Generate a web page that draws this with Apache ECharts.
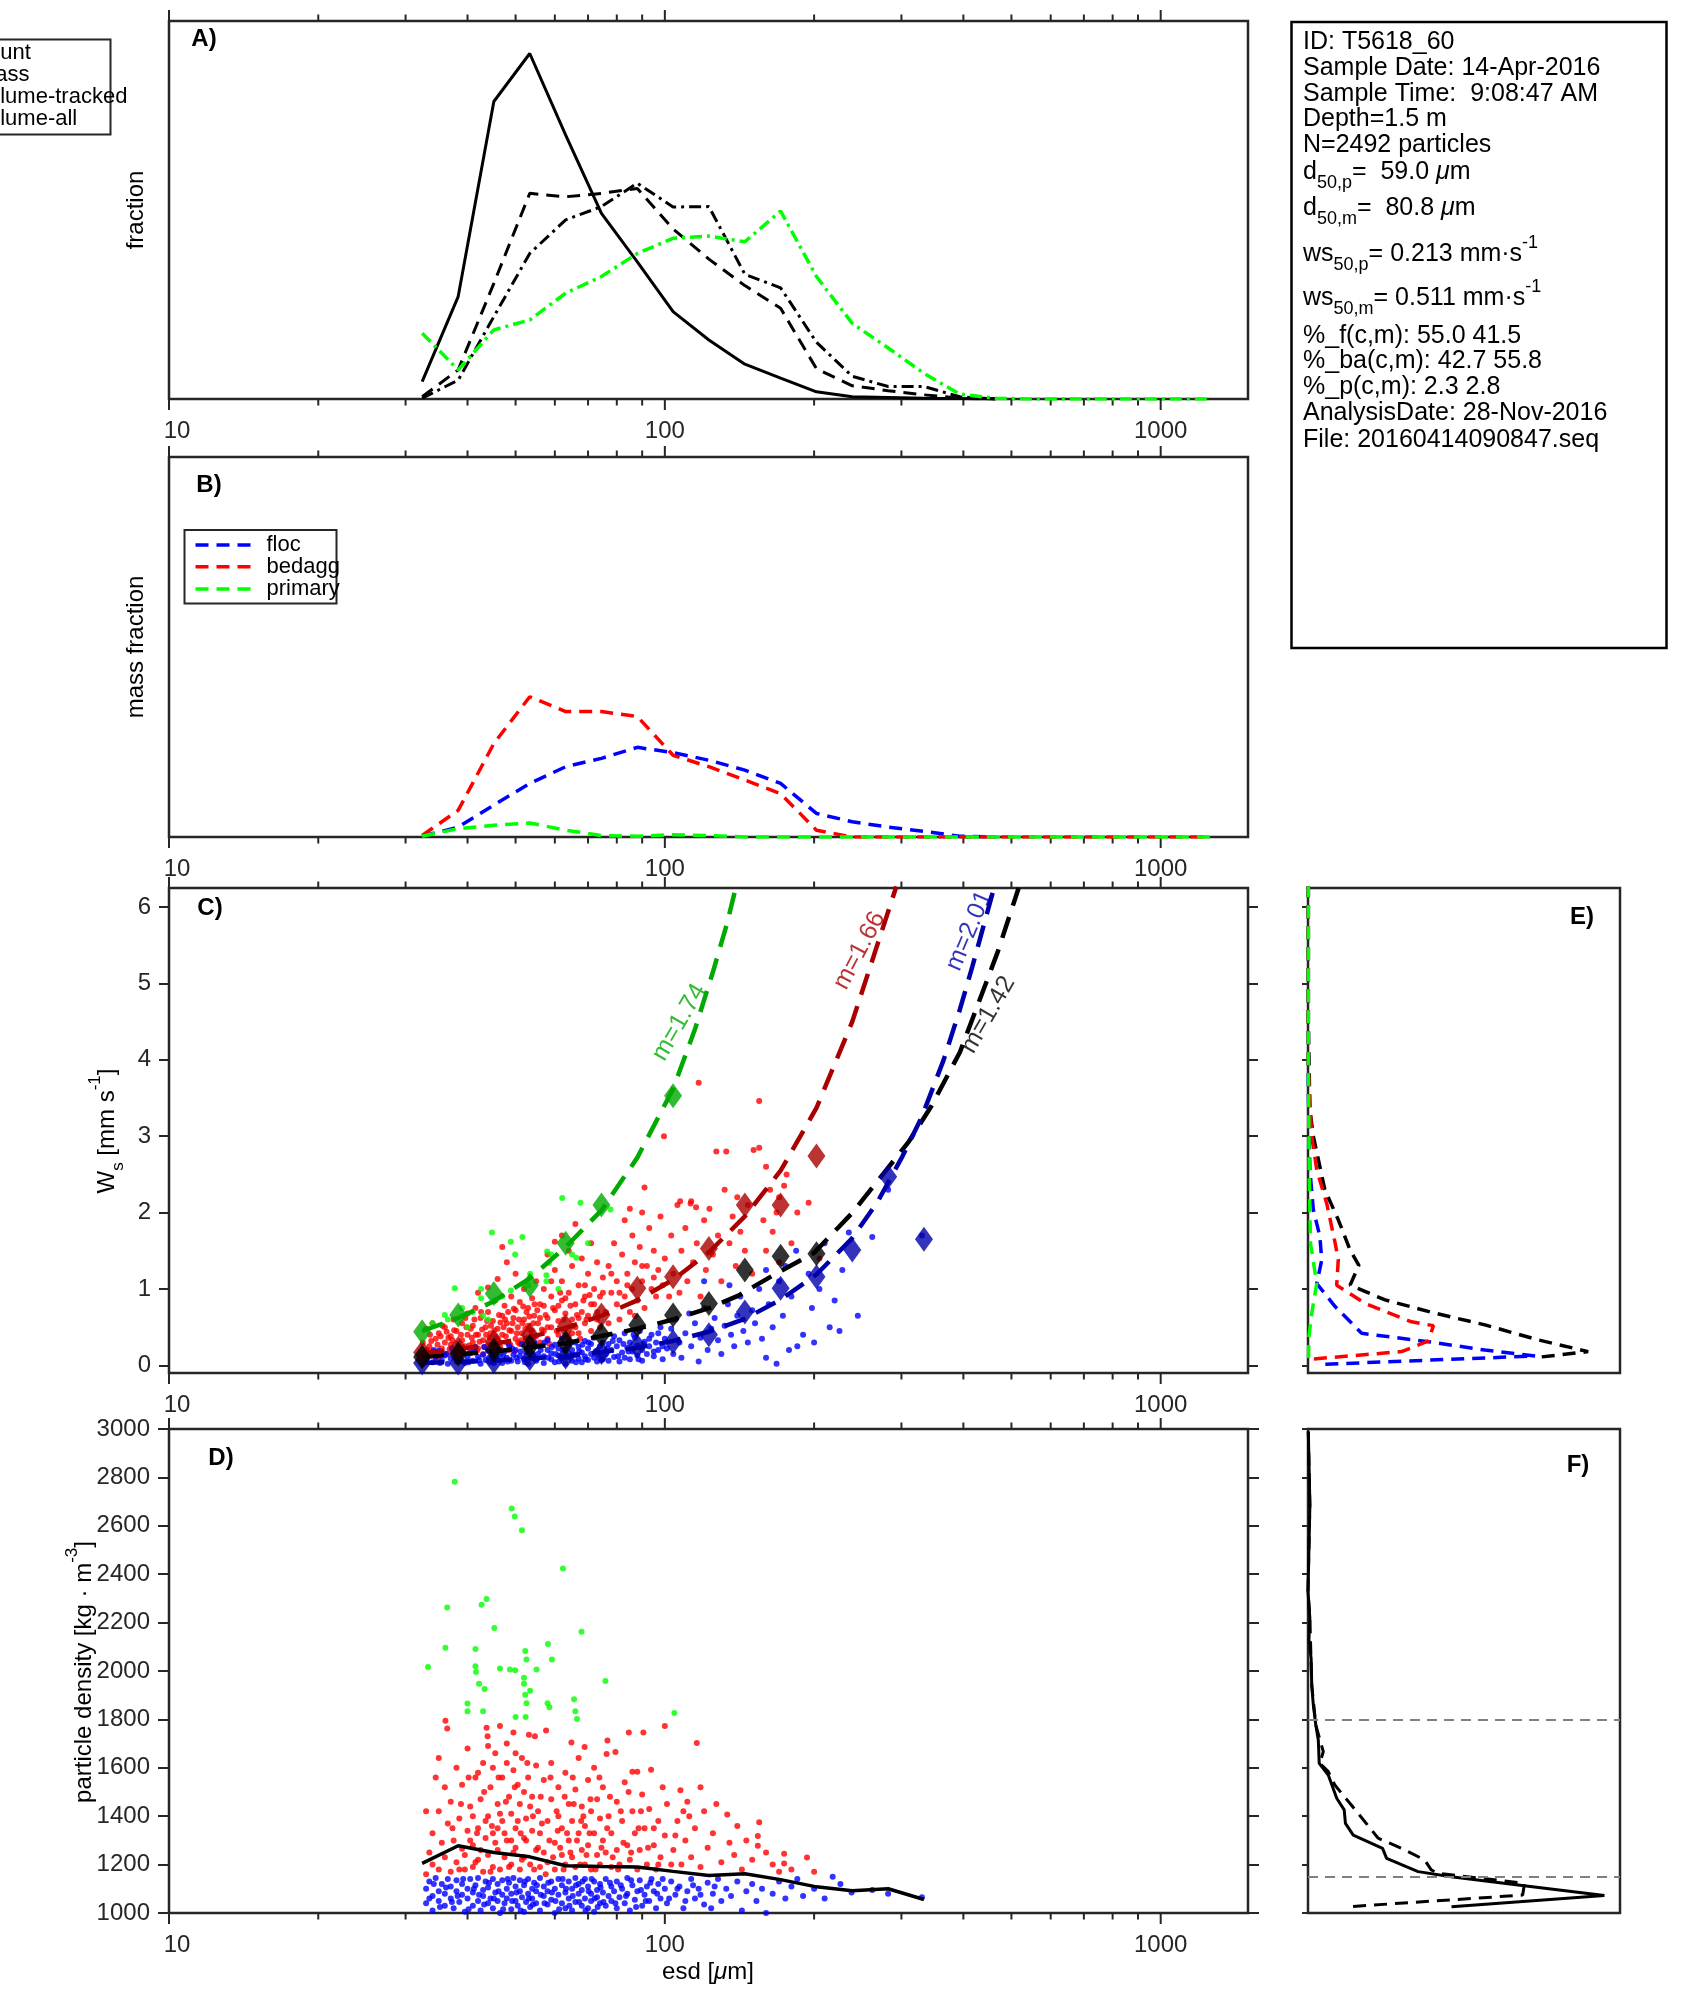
<!DOCTYPE html>
<html><head><meta charset="utf-8">
<script src="https://cdn.jsdelivr.net/npm/echarts@6/dist/echarts.min.js"></script>
<style>html,body{margin:0;padding:0;background:#fff;}#c{width:1694px;height:2015px;}</style>
</head><body><div id="c"></div>
<script>
const FONT = "'Liberation Sans', Arial, Helvetica, sans-serif";
const AXC = '#262626';

// ---------- DATA ----------
const binEsd = [32.4, 38.3, 45.2, 53.4, 63.1, 74.5, 88.0, 103.9, 122.7, 145.0, 171.2, 202.2, 238.8, 282.1, 333.1, 393.5, 464.7, 548.9, 648.3, 765.7, 904.4, 1068.2, 1261.6];
const xTickValues = [10,20,30,40,50,60,70,80,90,100,200,300,400,500,600,700,800,900,1000];
const xMajorTicks = [10,100,1000];
const xTickLabels = ['10','100','1000'];

// Panel A (fraction)
const aCount = [0.046,0.271,0.787,0.914,0.698,0.491,0.363,0.231,0.156,0.092,0.055,0.019,0.006,0.004,0.002,0.001,0];
const aMass = [0.006,0.077,0.306,0.544,0.535,0.544,0.557,0.450,0.370,0.300,0.240,0.080,0.035,0.022,0.011,0.002,0];
const aVolTracked = [0.002,0.050,0.218,0.385,0.474,0.509,0.571,0.508,0.509,0.330,0.294,0.150,0.060,0.033,0.033,0.006,0];
const aVolAll = [0.174,0.077,0.183,0.209,0.280,0.324,0.385,0.425,0.431,0.416,0.497,0.324,0.200,0.135,0.068,0.013,0.002,0,0,0,0,0,0];

// Panel B (mass fraction)
const bFloc = [0.002,0.026,0.084,0.141,0.185,0.207,0.236,0.222,0.202,0.176,0.141,0.062,0.040,0.026,0.015,0.002,0];
const bBedagg = [0.004,0.070,0.246,0.369,0.330,0.330,0.317,0.215,0.185,0.150,0.114,0.018,0,0,0,0,0,0,0,0,0,0,0];
const bPrimary = [0.002,0.022,0.031,0.037,0.018,0.004,0.002,0.006,0.004,0,0,0,0,0,0,0,0,0,0,0,0,0,0];

// Panel C binned means (diamonds)
const cMeanPrimary = [0.44,0.66,0.94,1.05,1.60,2.10,null,3.53];
const cMeanBedagg = [0.17,0.22,0.31,0.40,0.51,0.66,1.01,1.16,1.53,2.10,2.10,2.74];
const cMeanFloc = [0.03,0.03,0.05,0.09,0.11,0.17,0.25,0.31,0.40,0.70,1.01,1.16,1.51,2.47,1.65];
const cMeanAll = [0.11,0.15,0.20,0.25,0.30,0.40,0.53,0.66,0.81,1.25,1.43,1.46];

// Panel C fitted curves [esd, Ws]
const fitPrimary = [[32.4,0.45],[38.3,0.62],[45.2,0.84],[53.4,1.14],[63.1,1.55],[74.5,2.03],[88.0,2.72],[103.9,3.62],[115,4.40],[125,5.15],[133,5.75],[139.6,6.3]];
const fitBedagg = [[32.4,0.16],[38.3,0.21],[45.2,0.28],[53.4,0.37],[63.1,0.49],[74.5,0.65],[88.0,0.85],[103.9,1.12],[122.7,1.48],[145.0,1.95],[171.2,2.55],[202.2,3.37],[238.8,4.5],[265,5.4],[293,6.27]];
const fitFloc = [[32.4,0.03],[45.2,0.06],[63.1,0.12],[88.0,0.23],[103.9,0.32],[122.7,0.44],[145.0,0.61],[171.2,0.86],[202.2,1.19],[238.3,1.66],[268,2.13],[301.6,2.74],[329.6,3.25],[365,4.0],[393.6,4.66],[417,5.22],[448.7,5.97],[462,6.27]];
const fitAll = [[32.4,0.11],[45.2,0.18],[63.1,0.29],[88.0,0.48],[103.9,0.60],[122.7,0.75],[140.3,0.91],[167.5,1.20],[199.7,1.47],[238.3,1.99],[276,2.51],[310.5,2.93],[344.4,3.39],[393.6,4.10],[469,5.41],[517,6.25]];
const fitLabelText = ['m=1.74','m=1.66','m=2.01','m=1.42'];
const fitLabelAt = [[107,4.49],[247,5.43],[411,5.69],[449,4.59]];

// Panel C particles [esd, Ws]
const cPtsBedagg = [[33,0.12],[33.5,0.25],[34,0.18],[34.5,0.35],[35,0.1],[35,0.42],[35.5,0.22],[36,0.3],[36,0.5],[36.5,0.15],[37,0.27],[37,0.38],[37.5,0.6],[38,0.2],[38,0.45],[38.5,0.12],[39,0.33],[39,0.55],[39.5,0.25],[40,0.4],[40,0.68],[33,0.48],[34,0.55],[32.5,0.3],
[40.5,0.18],[41,0.3],[41,0.52],[41.5,0.75],[42,0.22],[42,0.4],[42.5,0.62],[43,0.15],[43,0.33],[43.5,0.5],[44,0.27],[44,0.7],[44.5,0.42],[45,0.2],[45,0.58],[45.5,0.85],[46,0.35],[46,0.48],[46.5,0.25],[47,0.65],[47,0.4],[47.5,0.78],[48,0.3],[48,0.55],[48.5,0.2],[49,0.45],[49,0.9],[49.5,0.62],[50,0.35],[50,0.72],[50.5,0.5],[51,0.28],[51,0.83],[51.5,0.42],[52,0.6],[52,1.0],[52.5,0.33],[53,0.52],[53,0.75],[53.5,0.25],[54,0.45],[54,0.88],[54.5,0.65],[55,0.38],[55,1.1],[42,0.95],[44,1.02],[46,1.13],[47,1.55],[48,1.35],[50,1.2],
[55.5,0.55],[56,0.3],[56,0.8],[57,0.45],[57,1.0],[58,0.62],[58,0.35],[59,0.9],[59,0.5],[60,0.72],[60,1.25],[61,0.4],[61,0.58],[62,0.85],[62,1.1],[63,0.48],[63,0.68],[64,0.95],[64,0.38],[65,1.3],[65,0.6],[66,0.8],[66,0.5],[67,1.05],[67,0.42],[68,0.7],[68,1.4],[69,0.55],[69,0.9],[70,1.2],[70,0.65],[71,0.45],[71,1.6],[72,0.8],[72,1.0],[73,0.6],[73,1.35],[74,0.9],[74,0.5],[75,1.15],[58,1.45],[62,1.7],[64,1.5],[66,1.85],[60,1.62],
[76,0.7],[77,1.3],[77,0.55],[78,0.95],[79,1.6],[80,0.8],[80,1.1],[81,0.6],[82,1.45],[83,0.9],[83,1.9],[84,1.2],[85,0.7],[86,1.0],[86,1.7],[87,1.35],[88,0.85],[89,1.55],[90,1.1],[90,2.0],[91,0.75],[92,1.3],[93,1.8],[94,1.0],[95,1.5],[96,0.9],[97,1.25],[98,1.95],[99,1.05],[100,1.4],[91,2.33],[99.6,3.0],[85,2.05],
[102,0.9],[103,1.7],[104,1.2],[106,2.1],[107,0.95],[108,1.5],[110,1.8],[111,1.1],[113,2.15],[114,1.35],[116,1.6],[117,3.7],[118,0.9],[120,1.9],[121,1.25],[123,2.05],[125,1.45],[127,2.8],[128,1.7],[130,1.1],[132,2.3],[133,2.8],[135,1.6],[137,1.95],[139,1.3],[140,2.2],[142,1.75],[145,1.5],[147,2.1],[150,1.2],[107.4,2.15],[112.7,2.12],[115.6,2.07],
[151,2.82],[155,2.85],[155,3.46],[158,1.9],[160,1.5],[163,2.3],[165,1.75],[168,2.0],[170,1.35],[174,2.35],[176,2.5],[180,1.6],[185,2.0],[195,2.13],[205,1.4],[160,2.6],[170,2.2],
[33.2,0.2],[33.8,0.32],[34.3,0.14],[34.8,0.27],[35.3,0.38],[35.8,0.16],[36.3,0.44],[36.8,0.21],[37.3,0.33],[37.8,0.13],[38.3,0.28],[38.8,0.4],[39.3,0.17],[39.8,0.5],[40.3,0.26],[40.8,0.36],[41.3,0.6],[41.8,0.19],[42.3,0.31],[42.8,0.47],[43.3,0.24],[43.8,0.58],[44.3,0.36],[44.8,0.17],[45.3,0.46],[45.8,0.3],[46.3,0.66],[46.8,0.2],[47.3,0.5],[47.8,0.38],[48.3,0.7],[48.8,0.27],[49.3,0.55],[49.8,0.18],[50.3,0.42],[50.8,0.6],[51.3,0.33],[51.8,0.77],[52.3,0.48],[52.8,0.22],[53.3,0.64],[53.8,0.38],[54.3,0.55],[54.8,0.28],[55.3,0.72],[56.5,0.47],[57.5,0.66],[58.5,0.28],[59.5,0.75],[60.5,0.45],[61.5,0.95],[62.5,0.6],[63.5,0.36],[64.5,0.78],[65.5,0.52],[66.5,0.66],[67.5,0.35],[68.5,0.85],[69.5,0.6],[70.5,0.92],
[33.6,0.4],[34.6,0.08],[35.6,0.52],[36.6,0.36],[37.6,0.46],[38.6,0.24],[39.6,0.62],[40.6,0.48],[41.6,0.4],[42.6,0.7],[43.6,0.4],[44.6,0.52],[45.6,0.38],[46.6,0.56],[47.6,0.6],[48.6,0.46],[49.6,0.74],[50.6,0.3],[51.6,0.55],[52.6,0.7],[53.6,0.46],[54.6,0.8],[56,0.62],[57,0.78],[58,0.5],[59,1.1],[61,0.78],[63,0.88],[65,0.42],[67,0.62],[69,1.05],[71,0.8],[73,0.7],[75,0.95],[78,1.2],[81,0.95],[84,1.05],[87,0.65],[90,1.3],[95,1.15]];
const cPtsFloc = [[32.5,0.02],[33,0.08],[33.5,0.15],[34,0.04],[34.5,0.11],[35,0.19],[35.5,0.06],[36,0.13],[36.5,0.02],[37,0.09],[37.5,0.17],[38,0.05],[38.5,0.12],[39,0.21],[39.5,0.03],[40,0.1],[40.5,0.16],[41,0.06],[41.5,0.24],[42,0.11],[42.5,0.02],[43,0.14],[43.5,0.07],[44,0.19],[44.5,0.04],[45,0.12],[45.5,0.22],[46,0.08],[46.5,0.15],[47,0.03],[47.5,0.18],[48,0.1],[48.5,0.26],[49,0.06],[49.5,0.14],[50,0.2],
[50.5,0.05],[51,0.12],[51.5,0.28],[52,0.08],[52.5,0.17],[53,0.02],[53.5,0.22],[54,0.1],[54.5,0.31],[55,0.06],[55.5,0.15],[56,0.25],[57,0.03],[57,0.12],[58,0.2],[58,0.33],[59,0.08],[59,0.16],[60,0.27],[60,0.04],[61,0.13],[61,0.22],[62,0.09],[62,0.35],[63,0.18],[63,0.02],[64,0.26],[64,0.11],[65,0.06],[65,0.2],[66,0.3],[66,0.14],[67,0.09],[67,0.24],[68,0.04],[68,0.17],[69,0.32],[69,0.12],[70,0.22],[70,0.07],[71,0.15],[71,0.28],[72,0.1],[72,0.36],[73,0.19],[73,0.05],[74,0.25],[74,0.13],[75,0.3],[75,0.08],
[76,0.15],[77,0.28],[77,0.06],[78,0.2],[79,0.38],[79,0.11],[80,0.25],[81,0.05],[81,0.33],[82,0.17],[83,0.42],[83,0.1],[84,0.23],[85,0.3],[85,0.08],[86,0.18],[87,0.36],[88,0.13],[88,0.26],[89,0.45],[90,0.2],[90,0.06],[91,0.31],[92,0.15],[93,0.25],[94,0.4],[95,0.12],[96,0.3],[97,0.2],[98,0.5],[99,0.08],[100,0.35],
[101,0.22],[103,0.48],[104,0.15],[105,0.6],[107,0.3],[108,0.1],[110,0.42],[112,0.68],[113,0.25],[115,0.55],[117,0.05],[118,0.36],[120,0.75],[122,0.2],[124,0.48],[126,0.62],[128,0.33],[130,0.15],[132,0.52],[134,0.8],[136,0.4],[138,0.25],[140,0.65],[142,0.9],[144,0.45],[147,0.3],[150,0.72],[120,1.1],[135,1.05],
[152,0.55],[155,1.0],[157,0.35],[160,1.25],[162,0.8],[165,0.5],[168,0.02],[170,1.1],[173,0.65],[175,1.3],[178,0.2],[180,0.9],[184,1.5],[190,0.4],[195,1.2],[198,0.75],[200,0.3],[205,1.0],[210,1.6],[215,0.5],[220,0.85],[228,1.25],[235,1.74],[245,0.65],[262,1.68],[282,2.3],[330,1.7],[160,0.1],[185,0.25],[225,0.45],
[33.2,0.1],[34.2,0.2],[35.2,0.03],[36.2,0.15],[37.2,0.22],[38.2,0.08],[39.2,0.16],[40.2,0.04],[41.2,0.18],[42.2,0.07],[43.2,0.24],[44.2,0.1],[45.2,0.03],[46.2,0.2],[47.2,0.12],[48.2,0.05],[49.2,0.22],[50.2,0.1],[51.2,0.18],[52.2,0.04],[53.2,0.27],[54.2,0.15],[55.2,0.08],[56.2,0.2],[57.2,0.3],[58.2,0.1],[59.2,0.24],[60.2,0.15],[61.2,0.05],[62.2,0.2],[63.2,0.1],[64.2,0.32],[65.2,0.14],[66.2,0.04],[67.2,0.18],[68.2,0.27],[69.2,0.08],[70.2,0.3],[72.5,0.18],[74.5,0.07],[76.5,0.22],[78.5,0.32],[80.5,0.12],[82.5,0.28],[84.5,0.18],[86.5,0.4],[88.5,0.08],[90.5,0.28],[93,0.35],[95,0.18],[97,0.42],[99,0.25]];
const cPtsPrimary = [[37.7,1.01],[44.8,1.74],[48.9,1.62],[51.6,1.68],[62.1,2.19],[67.6,2.13],[77.7,2.04],[57.9,1.49],[59,1.45],[65,1.45],[66.3,1.41],[42.6,1.0],[42.6,0.88],[45.2,0.84],[48.9,0.98],[53,1.05],[41,0.7],[43,0.65],[44,0.6],[36,0.66],[36.5,0.6],[40,0.5],[53.5,1.2],[58.4,1.34],[57.7,1.18],[57.7,1.1],[49.9,1.45],[47,0.9],[39,0.75],[34,0.55],[70,1.6],[61,1.0]];

// Panel D particles [esd, density]
const dPtsBedagg = [[33,1160],[33.5,1250],[34,1330],[34,1200],[35,1420],[35,1180],[35.5,1290],[36,1520],[36,1230],[36.5,1370],[37,1170],[37,1460],[37.5,1300],[38,1600],[38,1210],[38.5,1390],[39,1265],[39,1530],[39.5,1180],[40,1340],[40,1680],[33,1420],[34.5,1560],[36.1,1794],[36.4,1762],[35,1640],
[40.5,1440],[41,1190],[41,1280],[41.5,1560],[42,1350],[42,1220],[42.5,1470],[43,1170],[43,1620],[43.5,1310],[43.7,1765],[43.9,1730],[44,1240],[44,1400],[44.5,1520],[45,1190],[45,1330],[45.5,1660],[46,1260],[46,1450],[46.5,1773],[46.5,1180],[47,1380],[47,1560],[47.5,1230],[48,1300],[48,1700],[48.5,1480],[49,1200],[49,1410],[49.5,1746],[49.5,1590],[50,1270],[50,1350],[50.5,1530],[51,1180],[51,1450],[51.5,1640],[52,1310],[52,1230],[52.5,1390],[53,1560],[53.2,1737],[53.5,1200],[54,1340],[54,1480],[54.7,1730],[55,1260],[55,1610],[42,1580],[45,1600],[48,1620],[50,1660],[44,1690],[52,1500],[46,1350],[49,1300],[41,1400],
[55.5,1420],[56,1190],[56,1330],[57,1550],[57,1250],[57.6,1754],[58,1380],[58,1210],[59,1470],[59,1620],[60,1290],[60,1180],[61,1400],[61,1520],[62,1240],[62,1350],[63,1580],[63,1200],[64,1450],[64,1300],[64.8,1705],[65,1230],[65,1380],[66,1510],[66,1190],[67,1330],[67,1640],[68,1260],[68,1440],[68.9,1686],[69,1200],[69,1360],[70,1550],[70,1280],[71,1420],[71,1180],[72,1330],[72,1600],[73,1240],[73,1470],[74,1390],[74,1200],[75,1300],[75,1520],
[76,1250],[76.3,1657],[76.6,1713],[77,1400],[78,1190],[78,1330],[79.5,1665],[80,1460],[80,1260],[81,1200],[82,1380],[83,1540],[84,1280],[84.6,1746],[85,1220],[86,1584],[86,1420],[87,1330],[88,1584],[88,1180],[89,1260],[90,1490],[90.5,1746],[91,1350],[92,1200],[93,1430],[93.8,1592],[95,1280],[96,1180],[97,1380],[98,1230],[100,1773],[100,1320],[101,1450],[103,1200],[104,1260],
[106,1380],[107.5,1507],[108,1200],[110,1300],[111,1460],[113,1230],[115,1350],[116,1702],[118,1190],[120,1420],[122,1270],[125,1330],[127,1450],[130,1210],[133.6,1407],[135,1290],[138,1240],[140,1360],[143,1180],[146,1300],[150,1220],[154,1318],[154,1278],[155,1375],[160,1250],[165,1200],[170,1170],[174,1245],[174,1205],[180,1180],[193.5,1229],[200,1170],[112,1400],[118,1520],
[38.5,1180],[39.5,1240],[40.5,1300],[41.5,1210],[42.5,1260],[43.5,1380],[44.5,1170],[45.5,1290],[46.5,1410],[47.5,1330],[48.5,1190],[49.5,1250],[50.5,1380],[51.5,1220],[52.5,1300],[53.5,1440],[54.5,1180],[55.5,1270],[56.5,1370],[57.5,1160],[58.5,1300],[59.5,1230],[60.5,1420],[61.5,1270],[62.5,1180],[63.5,1330],[64.5,1250],[65.5,1450],[66.5,1300],[67.5,1200],[68.5,1400],[69.5,1240],[70.5,1330],[72.5,1180],[74.5,1270],[76.5,1350],[78.5,1230],[80.5,1180],[82.5,1290],[85.5,1250],[88.5,1350],[92.5,1270],[97,1200],
[37.3,1350],[38.8,1450],[40.2,1560],[41.8,1330],[43.2,1500],[44.8,1360],[46.2,1560],[47.8,1460],[49.8,1520],[51.2,1330],[52.8,1620],[54.2,1400],[56.2,1480],[58.8,1560],[60.8,1340],[62.8,1480],[65.2,1560],[67.8,1380],[70.8,1470],[73.8,1560],[77.5,1480],[81.5,1420],[84.5,1500],[89.5,1420],[95,1350],[99,1520],[105,1320],[109,1420]];
const dPtsFloc = [[33,1100],[33,1040],[33.5,1130],[34,1070],[34,1010],[34.5,1145],[35,1090],[35,1050],[35.5,1120],[36,1030],[36,1080],[36.5,1140],[37,1060],[37,1110],[37.5,1020],[38,1090],[38,1135],[38.5,1045],[39,1075],[39,1120],[39.5,1005],[40,1100],[40,1060],[40.5,1140],[41,1030],[41,1085],[41.5,1115],[42,1050],[42,1145],[42.5,1010],[43,1095],[43,1070],[43.5,1130],[44,1040],[44,1105],[44.5,1060],[45,1140],[45,1020],[45.5,1085],[46,1120],[46,1050],[46.5,1000],[47,1075],[47,1135],[47.5,1040],[48,1100],[48,1060],[48.5,1125],[49,1015],[49,1080],[49.5,1145],[50,1050],[50,1110],[50.5,1030],[51,1090],[51,1135],[51.5,1065],[52,1005],[52,1115],[52.5,1045],[53,1080],[53,1140],[53.5,1025],[54,1100],[54,1060],[54.5,1125],[55,1040],[55,1090],[56,1010],[56,1145],[57,1070],[57,1110],[58,1035],[58,1090],[59,1130],[59,1055],[60,1000],[60,1100],[61,1075],[61,1140],[62,1040],[62,1115],[63,1085],[63,1020],[64,1130],[64,1060],[65,1100],[65,1010],[66,1045],[66,1145],[67,1080],[67,1120],[68,1030],[68,1095],[69,1060],[69,1140],[70,1110],[70,1020],[71,1080],[71,1050],[72,1130],[72,1005],[73,1095],[73,1065],[74,1040],[74,1120],[75,1085],[76,1140],[76,1030],[77,1070],[78,1110],[78,1050],[79,1090],[80,1020],[80,1130],[81,1065],[82,1100],[83,1040],[84,1145],[84,1080],[85,1010],[86,1115],[87,1055],[88,1090],[89,1135],[90,1030],[91,1075],[92,1110],[93,1050],[94,1140],[95,1090],[96,1020],[97,1120],[98,1060],[100,1100],[101,1040],[103,1130],[105,1075],[107,1110],[109,1020],[111,1090],[113,1140],[115,1060],[117,1100],[120,1035],[122,1125],[125,1080],[128,1140],[130,1050],[133,1100],[136,1070],[140,1130],[143,1010],[146,1090],[150,1120],[153,1050],[157,1100],[160,1000],[165,1080],[170,1130],[175,1060],[180,1110],[185,1140],[190,1070],[200,1100],[210,1060],[218,1150],[226,1120],[238,1085],[262,1095],[282,1080],[330,1065],
[33.5,1060],[34.2,1120],[35.2,1025],[36.2,1105],[37.2,1045],[38.2,1070],[39.2,1140],[40.2,1015],[41.2,1100],[42.2,1075],[43.2,1035],[44.2,1125],[45.2,1060],[46.2,1090],[47.2,1015],[48.2,1140],[49.2,1050],[50.2,1085],[51.2,1010],[52.2,1130],[53.2,1060],[54.2,1035],[55.2,1115],[56.2,1075],[57.2,1040],[58.2,1125],[59.2,1085],[60.2,1050],[61.2,1015],[62.2,1140],[63.2,1100],[64.2,1030],[65.2,1070],[66.2,1115],[67.2,1045],[68.2,1130],[69.2,1010],[70.2,1090],[71.2,1140],[72.2,1060],[73.2,1025],[74.2,1105],[75.2,1045],[77.5,1125],[79.5,1040],[81.5,1115],[83.5,1070],[85.5,1135],[87.5,1025],[89.5,1095],[91.5,1050],[93.5,1125],[96.5,1080],[99,1140],[102,1060],[106,1100],[110,1050],[114,1115],[118,1075],[124,1020],[126,1110]];
const dPtsPrimary = [[37.7,2782],[49.1,2671],[49.8,2638],[51.5,2582],[62.3,2424],[36.4,2262],[42.7,2274],[43.7,2298],[45.3,2178],[67.9,2162],[36.1,2096],[33.3,2017],[41.5,2091],[41.5,2020],[41.6,1996],[42.2,1947],[43.3,1926],[46.5,2010],[48.7,2006],[49.9,2003],[52.3,2083],[52.6,2048],[55.1,2006],[58.1,2112],[59.2,2048],[52,1972],[52,1947],[53.5,1918],[52.3,1902],[52.6,1867],[52.4,1810],[40,1834],[40,1866],[43,1834],[58,1867],[58.5,1850],[65.6,1883],[66,1834],[66.5,1802],[75.9,1959],[104.5,1826],[50,1810]];
const dMeanDensity = [1205,1278,1250,1232,1195,1192,1190,1172,1155,1162,1138,1108,1092,1100,1056];

// Panel E profiles [fraction, Ws]
const eAll = [[0.001,6.3],[0.001,4.5],[0.006,3.35],[0.017,3.0],[0.054,2.3],[0.097,1.906],[0.135,1.51],[0.163,1.31],[0.135,1.05],[0.247,0.857],[0.407,0.683],[0.567,0.53],[0.738,0.333],[0.898,0.18],[0.738,0.106]];
const eFloc = [[0.001,6.3],[0.001,3.6],[0.006,2.56],[0.017,2.04],[0.038,1.69],[0.044,1.38],[0.028,1.07],[0.087,0.77],[0.172,0.42],[0.386,0.31],[0.567,0.2],[0.728,0.123],[0.054,0.014]];
const eBedagg = [[0.001,6.3],[0.001,3.87],[0.006,3.43],[0.012,3.0],[0.028,2.56],[0.06,2.12],[0.087,1.6],[0.097,1.38],[0.092,1.05],[0.183,0.81],[0.332,0.57],[0.402,0.52],[0.386,0.32],[0.3,0.18],[0.006,0.08]];
const ePrimary = [[0.001,6.3],[0.001,4.0],[0.004,2.5],[0.008,1.6],[0.028,1.07],[0.012,0.68],[0.003,0.38],[0.001,0.0]];

// Panel F profiles [fraction, density]
const fCount = [[0.001,2990],[0.006,2686],[0.0,2328],[0.006,2218],[0.003,2130],[0.01,2052],[0.012,1942],[0.017,1860],[0.025,1777],[0.033,1715],[0.036,1618],[0.065,1570],[0.092,1474],[0.116,1426],[0.12,1370],[0.145,1322],[0.239,1267],[0.252,1226],[0.353,1171],[0.459,1150],[0.673,1116],[0.95,1072],[0.46,1026]];
const fMass = [[0.001,2990],[0.006,2686],[0.0,2328],[0.006,2218],[0.012,1942],[0.025,1777],[0.049,1667],[0.038,1618],[0.065,1584],[0.086,1529],[0.156,1419],[0.225,1309],[0.3,1267],[0.374,1219],[0.395,1178],[0.417,1164],[0.694,1123],[0.688,1074],[0.129,1026]];
const fThresholds = [1800, 1150];

const legendALabels = ['count','mass','volume-tracked','volume-all'];
const legendBLabels = ['floc','bedagg','primary'];
const infoLines = [
  'ID: T5618_60',
  'Sample Date: 14-Apr-2016',
  'Sample Time:  9:08:47 AM',
  'Depth=1.5 m',
  'N=2492 particles',
  '{a|d}{s|50,p}{a|=  59.0 }{i|\u03bc}{a|m}',
  '{a|d}{s|50,m}{a|=  80.8 }{i|\u03bc}{a|m}',
  '{a|ws}{s|50,p}{a|= 0.213 mm\u00b7s}{p|-1}',
  '{a|ws}{s|50,m}{a|= 0.511 mm\u00b7s}{p|-1}',
  '%_f(c,m): 55.0 41.5',
  '%_ba(c,m): 42.7 55.8',
  '%_p(c,m): 2.3 2.8',
  'AnalysisDate: 28-Nov-2016',
  'File: 20160414090847.seq'
];

// ---------- helpers ----------
const pair = (xs, ys) => ys.map((y, i) => [xs[i], y]);
const COL = {black:'#000000', red:'#ff0000', blue:'#0000ff', green:'#00ff00', dred:'#aa0000', dblue:'#0000aa', dgreen:'#00aa00'};

function fmtLog(v) {
  const r = Math.round(v);
  const k = xMajorTicks.indexOf(r);
  if (k < 0 || Math.abs(v - r) > 1e-6 * r) return '';
  return k === 0 ? '{l|' + xTickLabels[0] + '}' : xTickLabels[k];
}
function logX(gi) {
  return {type:'log', logBase:10, gridIndex:gi, min:10, max:1500,
    axisLine:{show:false}, axisTick:{show:false}, splitLine:{show:false},
    axisLabel:{show:true, interval:0, margin:20, fontSize:24, fontFamily:FONT, color:AXC, formatter:fmtLog,
      rich:{l:{padding:[0,0,0,16], fontSize:24, fontFamily:FONT, color:AXC}}}};
}
function plainX(gi) {
  return {type:'value', gridIndex:gi, min:0, max:1, axisLine:{show:false}, axisTick:{show:false}, axisLabel:{show:false}, splitLine:{show:false}};
}
function hiddenY(gi) {
  return {type:'value', gridIndex:gi, min:0, max:1, axisLine:{show:false}, axisTick:{show:false}, axisLabel:{show:false}, splitLine:{show:false}};
}
const wsTicks = [0,1,2,3,4,5,6];
function wsY(gi, pos, labels, inside, len) {
  return {type:'value', gridIndex:gi, position:pos, min:-0.1, max:6.25,
    axisLine:{show:false}, splitLine:{show:false},
    axisTick:{show:true, inside:inside, length:len, customValues:wsTicks, lineStyle:{color:AXC, width:2}},
    axisLabel:{show:labels, customValues:wsTicks, margin:18, fontSize:24, fontFamily:FONT, color:AXC, formatter:v => String(v)}};
}
function rhoY(gi, pos, labels, inside, len) {
  return {type:'value', gridIndex:gi, position:pos, min:1000, max:3000, interval:200,
    axisLine:{show:false}, splitLine:{show:false},
    axisTick:{show:true, inside:inside, length:len, lineStyle:{color:AXC, width:2}},
    axisLabel:{show:labels, margin:19, fontSize:24, fontFamily:FONT, color:AXC, formatter:v => String(Math.round(v))}};
}
function xTickRender(params, api) {
  const v = api.value(0);
  const p = api.coord([v, api.value(1)]);
  const cs = params.coordSys;
  const major = xMajorTicks.some(m => Math.abs(m - v) < 1e-6);
  const L = major ? 11 : 6.5;
  const st = {stroke: AXC, lineWidth: 2};
  return {type:'group', children:[
    {type:'line', shape:{x1:p[0], y1:cs.y, x2:p[0], y2:cs.y - L}, style:st},
    {type:'line', shape:{x1:p[0], y1:cs.y + cs.height, x2:p[0], y2:cs.y + cs.height + L}, style:st}
  ]};
}
function tickSeries(xi, yi, yv) {
  return {type:'custom', xAxisIndex:xi, yAxisIndex:yi, silent:true, clip:false, z:1,
    renderItem:xTickRender, data:xTickValues.map(v => [v, yv])};
}
function line(xi, yi, data, color, width, type, z) {
  return {type:'line', xAxisIndex:xi, yAxisIndex:yi, data:data, showSymbol:false, symbol:'none', silent:true,
    lineStyle:{color:color, width:width, type:type}, z:z || 3, connectNulls:false};
}
function dots(xi, yi, data, color, size, z) {
  return {type:'scatter', xAxisIndex:xi, yAxisIndex:yi, data:data, symbol:'circle', symbolSize:size, silent:true,
    itemStyle:{color:color}, z:z || 2, large:false};
}
function diamonds(data, color) {
  return {type:'scatter', xAxisIndex:2, yAxisIndex:2, data:data.filter(d => d[1] != null), symbol:'diamond', symbolSize:[18,25], silent:true,
    itemStyle:{color:color}, z:6};
}

const DASH = [13, 8];
const DASHDOT = [12, 5, 3, 5];
const FITDASH = [22, 12];
const DOT = 6;

const series = [
  tickSeries(0,0,0.5), tickSeries(1,1,0.5), tickSeries(2,2,1), tickSeries(3,4,2000),
  // A
  line(0,0,pair(binEsd,aCount),COL.black,3,'solid'),
  line(0,0,pair(binEsd,aMass),COL.black,3,DASH),
  line(0,0,pair(binEsd,aVolTracked),COL.black,3,DASHDOT),
  line(0,0,pair(binEsd,aVolAll),COL.green,3.5,DASHDOT),
  // B
  line(1,1,pair(binEsd,bFloc),COL.blue,3.5,DASH),
  line(1,1,pair(binEsd,bBedagg),COL.red,3.5,DASH),
  line(1,1,pair(binEsd,bPrimary),COL.green,3.5,DASH),
  // C
  dots(2,2,cPtsBedagg,COL.red,DOT),
  dots(2,2,cPtsFloc,COL.blue,DOT),
  dots(2,2,cPtsPrimary,COL.green,DOT),
  line(2,2,fitAll,COL.black,4.5,FITDASH,4),
  line(2,2,fitFloc,COL.dblue,4.5,FITDASH,4),
  line(2,2,fitBedagg,COL.dred,4.5,FITDASH,4),
  line(2,2,fitPrimary,COL.dgreen,4.5,FITDASH,4),
  diamonds(pair(binEsd,cMeanFloc),COL.dblue),
  diamonds(pair(binEsd,cMeanBedagg),COL.dred),
  diamonds(pair(binEsd,cMeanAll),COL.black),
  diamonds(pair(binEsd,cMeanPrimary),COL.dgreen),
  {type:'scatter', xAxisIndex:2, yAxisIndex:2, symbol:'circle', symbolSize:2, silent:true, z:7, itemStyle:{color:'rgba(255,255,255,0)'},
    data:fitLabelAt.map((p,i) => ({value:p, label:{show:true, position:'inside', rotate:[60,62,67,60][i], formatter:fitLabelText[i],
      color:[COL.dgreen,COL.dred,COL.dblue,COL.black][i], fontSize:25, fontFamily:FONT}}))},
  // D
  dots(3,4,dPtsBedagg,COL.red,DOT),
  dots(3,4,dPtsFloc,COL.blue,DOT),
  dots(3,4,dPtsPrimary,COL.green,DOT),
  line(3,4,pair(binEsd,dMeanDensity),COL.black,3.5,'solid',5),
  // E
  line(4,6,eAll,COL.black,3.5,DASH),
  line(4,6,eFloc,COL.blue,3.5,DASH),
  line(4,6,eBedagg,COL.red,3.5,DASH),
  line(4,6,ePrimary,COL.green,3.5,DASH),
  // F
  Object.assign(line(5,7,fCount,COL.black,3,'solid'), {markLine:{silent:true, symbol:'none', label:{show:false},
    lineStyle:{color:'#808080', type:[10,7], width:2}, data:fThresholds.map(v => ({yAxis:v}))}}),
  line(5,7,fMass,COL.black,3,DASH)
];

// ---------- graphics ----------
const txt = (x, y, text, size, opts) => Object.assign({type:'text', x:x, y:y, silent:true, z:100,
  style:Object.assign({text:text, fontSize:size, fontFamily:FONT, fill:'#000', align:'center', textAlign:'center', verticalAlign:'middle', textVerticalAlign:'middle'}, (opts && opts.style) || {})},
  (opts && opts.el) || {});
const richBase = {
  a:{fontSize:24, fontFamily:FONT, fill:'#000', lineHeight:40, verticalAlign:'middle'},
  i:{fontSize:24, fontFamily:FONT, fill:'#000', fontStyle:'italic', lineHeight:40, verticalAlign:'middle'},
  s:{fontSize:17, fontFamily:FONT, fill:'#000', lineHeight:17, verticalAlign:'bottom'},
  p:{fontSize:17, fontFamily:FONT, fill:'#000', lineHeight:17, verticalAlign:'top'}
};
const richInfo = {
  a:Object.assign({}, richBase.a, {fontSize:25}),
  i:Object.assign({}, richBase.i, {fontSize:25}),
  s:Object.assign({}, richBase.s, {fontSize:18}),
  p:Object.assign({}, richBase.p, {fontSize:18})
};
const infoY = [42.4, 67.9, 93.75, 119.6, 145, 171.9, 208.5, 254.5, 298, 335.7, 361.6, 387.5, 413, 439.7];

const graphics = [];
graphics.push({type:'rect', shape:{x:-100, y:39.5, width:210.5, height:95}, style:{fill:'#fff', stroke:AXC, lineWidth:2}, silent:true, z:90});
[52.5, 74.5, 96.5, 118.5].forEach((y, i) => graphics.push(txt(-23, y, legendALabels[i], 22, {style:{align:'left', textAlign:'left'}})));
graphics.push({type:'rect', shape:{x:184.5, y:530, width:152, height:73.5}, style:{fill:'#fff', stroke:AXC, lineWidth:2}, silent:true, z:90});
[[545,COL.blue],[566.7,COL.red],[589,COL.green]].forEach((r, i) => {
  graphics.push({type:'line', shape:{x1:195.5, y1:r[0], x2:258, y2:r[0]}, style:{stroke:r[1], lineWidth:3.5, lineDash:DASH}, silent:true, z:95});
  graphics.push(txt(266.5, r[0], legendBLabels[i], 22, {style:{align:'left', textAlign:'left'}}));
});
graphics.push({type:'rect', shape:{x:1291.5, y:22, width:375, height:626}, style:{fill:'none', stroke:'#000', lineWidth:2.5}, silent:true, z:90});
infoLines.forEach((t, i) => {
  const text = t.indexOf('{') === 0 ? t : '{a|' + t + '}';
  graphics.push({type:'text', x:1303, y:infoY[i], silent:true, z:100,
    style:{text:text, rich:richInfo, align:'left', textAlign:'left', verticalAlign:'middle', textVerticalAlign:'middle'}});
});
[['A)',204,39],['B)',209,485],['C)',210,908],['D)',221,1458],['E)',1582,917],['F)',1578,1465]].forEach(p =>
  graphics.push(txt(p[1], p[2], p[0], 24, {style:{fontWeight:'bold'}})));
graphics.push(txt(136, 210, 'fraction', 24, {el:{rotation:Math.PI/2}}));
graphics.push(txt(136, 647, 'mass fraction', 24, {el:{rotation:Math.PI/2}}));
graphics.push({type:'text', x:107, y:1131, rotation:Math.PI/2, silent:true, z:100,
  style:{text:'{a|W}{s|s}{a| [mm s}{p|-1}{a|]}', rich:richBase, align:'center', textAlign:'center', verticalAlign:'middle', textVerticalAlign:'middle'}});
graphics.push({type:'text', x:84, y:1672, rotation:Math.PI/2, silent:true, z:100,
  style:{text:'{a|particle density [kg \u00b7 m}{p|-3}{a|]}', rich:richBase, align:'center', textAlign:'center', verticalAlign:'middle', textVerticalAlign:'middle'}});
graphics.push({type:'text', x:708, y:1972, silent:true, z:100,
  style:{text:'{a|esd [}{i|\u03bc}{a|m]}', rich:richBase, align:'center', textAlign:'center', verticalAlign:'middle', textVerticalAlign:'middle'}});

const gridBase = {show:true, borderColor:AXC, borderWidth:2.5, backgroundColor:'transparent', containLabel:false, outerBoundsMode:'none'};
const option = {
  animation:false,
  backgroundColor:'#ffffff',
  grid:[
    {left:169, top:21, width:1079, height:378},
    {left:169, top:457, width:1079, height:380},
    {left:169, top:888, width:1079, height:485},
    {left:169, top:1429, width:1079, height:484},
    {left:1308, top:888, width:312, height:485},
    {left:1308, top:1429, width:312, height:484}
  ].map(g => Object.assign({}, gridBase, g)),
  xAxis:[logX(0), logX(1), logX(2), logX(3), plainX(4), plainX(5)],
  yAxis:[hiddenY(0), hiddenY(1),
    wsY(2,'left',true,false,10), wsY(2,'right',false,false,10),
    rhoY(3,'left',true,false,11), rhoY(3,'right',false,false,11),
    wsY(4,'right',false,true,6), rhoY(5,'right',false,true,6)],
  series:series,
  graphic:graphics
};
const chart = echarts.init(document.getElementById('c'), null, {renderer:'canvas', width:1694, height:2015});
chart.setOption(option);
</script>
</body></html>
